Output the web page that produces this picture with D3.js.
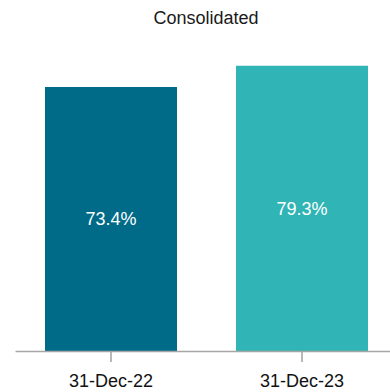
<!DOCTYPE html>
<html lang="en">
<head>
    <meta charset="UTF-8">
    <title>Consolidated</title>
    <script src="https://d3js.org/d3.v7.min.js"></script>
    <style>
        body { margin: 0; background: #fff; }
        text { font-family: "Liberation Sans", Arial, sans-serif; }
    </style>
</head>
<body>
    <div id="chart"></div>
    <script>
        const categories = ["31-Dec-22", "31-Dec-23"];
        const values = [73.4, 79.3];
        const labels = ["73.4%", "79.3%"];
        const colors = ["#006A89", "#30B4B5"];

        const w = 390;
        const h = 392;
        const baseY = 351;

        const svg = d3.select('#chart')
                    .append('svg')
                    .attr('width', w)
                    .attr('height', h)

        const xScale = d3.scaleBand()
                        .domain(categories)
                        .range([15, 398])
                        .paddingInner(0.309)
                        .paddingOuter(0.157)
        const yScale = d3.scaleLinear()
                        .domain([0, 100])
                        .range([baseY, -8.7])

        svg.append('text')
            .attr('x', 206)
            .attr('y', 24)
            .attr('text-anchor', 'middle')
            .style('font-size', '18px')
            .style('fill', '#1a1a1a')
            .text('Consolidated')

        svg.selectAll('rect.bar')
            .data(values)
            .enter()
            .append('rect')
            .attr('class', 'bar')
            .attr('x', (d, i) => xScale(categories[i]))
            .attr('y', d => yScale(d))
            .attr('width', xScale.bandwidth())
            .attr('height', d => baseY - yScale(d))
            .attr('fill', (d, i) => colors[i])

        svg.selectAll('text.val')
            .data(values)
            .enter()
            .append('text')
            .attr('class', 'val')
            .attr('x', (d, i) => xScale(categories[i]) + xScale.bandwidth() / 2)
            .attr('y', d => (yScale(d) + baseY) / 2 + 6.5)
            .attr('text-anchor', 'middle')
            .style('font-size', '18px')
            .style('fill', '#fff')
            .text((d, i) => labels[i])

        // tickSize first, it also sets the outer size
        const xAxis = d3.axisBottom(xScale).tickSize(11).tickSizeOuter(0).tickPadding(12)
        const gx = svg.append('g')
            .attr('transform', 'translate(0, ' + baseY + ')')
            .call(xAxis)
        gx.select('.domain').attr('stroke', '#a6a6a6').attr('stroke-width', 1.6)
        gx.selectAll('.tick line').attr('stroke', '#a6a6a6').attr('stroke-width', 1.6)
        gx.selectAll('.tick text')
            .style('font-size', '18px')
            .style('font-family', '"Liberation Sans", Arial, sans-serif')
            .attr('fill', '#111')
    </script>
</body>
</html>
